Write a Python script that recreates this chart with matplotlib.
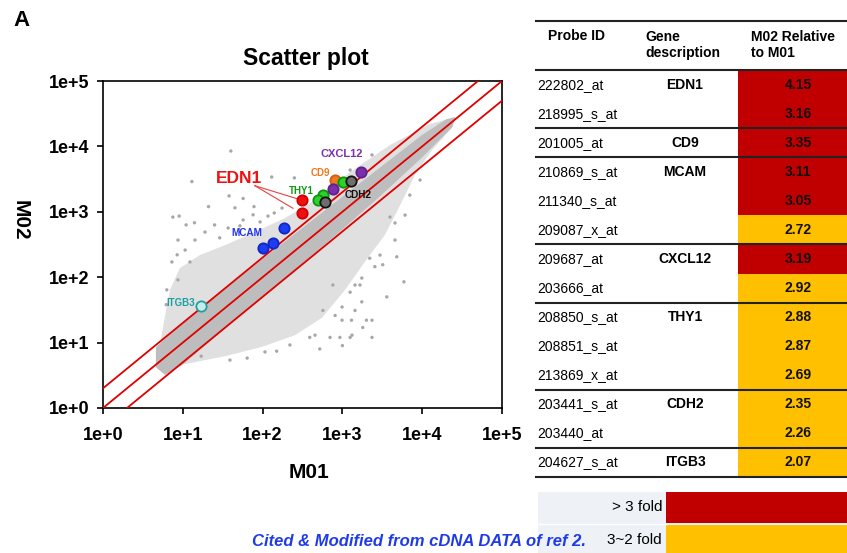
import matplotlib
matplotlib.use('Agg')
import matplotlib.pyplot as plt
from matplotlib.patches import Rectangle, Polygon
from matplotlib.ticker import FixedLocator, FixedFormatter, NullLocator

plt.rcParams['font.family'] = ['Liberation Sans', 'DejaVu Sans']

# ---- scatter data ----
# dense band of probes around the diagonal, outline as (M01, M02)
band_m01 = [4.6, 10, 30, 100, 300, 1000, 3000, 10000, 20000, 26000,
            24000, 10000, 3000, 1000, 300, 100, 30, 10, 6, 4.6]
band_m02 = [8.5, 20, 60, 190, 540, 1700, 4800, 15000, 26000, 28000,
            20000, 6800, 1750, 540, 155, 50, 14.5, 4.6, 3.2, 4.2]

# lighter speckled halo around the band
halo_m01 = [4.9, 5.3, 6.0, 6.9, 9.2, 16.4, 34, 80, 190, 450, 1250, 3950, 12500, 26000,
            23600, 13300, 8100, 5300, 3400, 1900, 1080, 555, 255, 98, 34, 10.7]
halo_m02 = [5.0, 11, 26, 64, 138, 218, 310, 490, 800, 1500, 4050, 10500, 22000, 28000,
            19100, 8800, 3650, 1270, 440, 170, 64, 24, 13, 8.6, 6.2, 4.7]

# scattered outlier probes
dots_m01 = [40, 13, 130, 250, 38, 57, 21, 45, 78, 9, 7.5, 11, 14, 57, 76, 140, 175, 1250, 2350, 4560,
            3950, 4800, 3200, 2550, 2200, 5900, 3600, 1750, 1440, 1250, 1750, 1440, 990, 990, 1300,
            2000, 2350, 1800, 2350, 1250, 930, 1000, 700, 520, 760, 570, 390, 64, 17, 150, 6.3, 8.5, 1320,
            7.3, 8.7, 10.7, 14.2, 19, 25, 37, 52, 93, 117, 8.7, 6.2, 12.3, 29,
            4560, 6100, 2960, 1660, 810, 454, 220, 107, 39, 9400, 7000]
dots_m02 = [8500, 2900, 3400, 3300, 1750, 1600, 1200, 1150, 1200, 860, 830, 630, 680, 750, 900, 960,
            1140, 4350, 7400, 675, 830, 205, 155, 145, 195, 85, 50, 97, 76, 59, 42, 31, 35, 22, 22,
            22, 22, 17, 12, 12, 12, 9, 12, 8, 76, 31, 12, 5.8, 6.2, 7.4, 64, 220, 13,
            171, 370, 260, 370, 490, 630, 565, 610, 700, 860, 91, 38, 171, 400,
            370, 890, 218, 76, 26, 13, 9.2, 7.2, 5.4, 3060, 1800]

# highlighted genes
genes = ['EDN1', 'EDN1', 'MCAM', 'MCAM', 'MCAM', 'ITGB3', 'CD9', 'THY1', 'THY1', 'THY1',
         'CDH2', 'CDH2', 'CXCL12', 'CXCL12']
gene_m01 = [314, 314, 187, 136, 101, 16.8, 815, 1009, 566, 499, 1270, 605, 1695, 755]
gene_m02 = [1514, 948, 560, 337, 283, 36.7, 3063, 2885, 1806, 1514, 2950, 1428, 4016, 2208]

fold_lines = [2, 1, 0.5]
ticks = [1, 10, 100, 1000, 10000, 100000]
tick_labels = ['1e+0', '1e+1', '1e+2', '1e+3', '1e+4', '1e+5']

# ---- table data ----
probe_ids = ['222802_at', '218995_s_at', '201005_at', '210869_s_at', '211340_s_at', '209087_x_at',
             '209687_at', '203666_at', '208850_s_at', '208851_s_at', '213869_x_at', '203441_s_at',
             '203440_at', '204627_s_at']
gene_desc = ['EDN1', '', 'CD9', 'MCAM', '', '', 'CXCL12', '', 'THY1', '', '', 'CDH2', '', 'ITGB3']
rel_fold = [4.15, 3.16, 3.35, 3.11, 3.05, 2.72, 3.19, 2.92, 2.88, 2.87, 2.69, 2.35, 2.26, 2.07]
group_ends = [2, 3, 6, 8, 11, 13, 14]

# styles
face = {'EDN1': '#f01010', 'MCAM': '#1f3cf5', 'ITGB3': '#c8ecec', 'CD9': '#f07820',
        'THY1': '#2ad22a', 'CDH2': '#6e6e6e', 'CXCL12': '#7a30a8'}
edge = {'EDN1': '#d00000', 'MCAM': '#1028c0', 'ITGB3': '#20a0a0', 'CD9': '#d06010',
        'THY1': '#129012', 'CDH2': '#111111', 'CXCL12': '#602090'}
text_col = {'EDN1': '#ee1111', 'MCAM': '#2233ee', 'ITGB3': '#1aa0a0', 'CD9': '#f07820',
            'THY1': '#119911', 'CDH2': '#111111', 'CXCL12': '#7a30a8'}
RED = '#c00000'
YEL = '#ffc000'

fig = plt.figure(figsize=(8.47, 5.53), dpi=100)
W, H = 847, 553

ax = fig.add_axes([103 / W, 1 - 408 / H, 399 / W, 327 / H])
ax.set_xscale('log')
ax.set_yscale('log')
ax.set_xlim(1, 1e5)
ax.set_ylim(1, 1e5)

ax.add_patch(Polygon(list(zip(halo_m01, halo_m02)), closed=True, facecolor='#e0e0e0',
                     edgecolor='none', zorder=1))
ax.add_patch(Polygon(list(zip(band_m01, band_m02)), closed=True, facecolor='#bdbdbd',
                     edgecolor='none', zorder=2))
ax.scatter(dots_m01, dots_m02, s=6, color='#a8a8a8', edgecolors='none', zorder=2)

for k in fold_lines:
    ax.plot([1, 1e5], [k * 1, k * 1e5], color='#e00000', lw=1.3, zorder=3)

for g, x, y in zip(genes, gene_m01, gene_m02):
    ax.scatter([x], [y], s=55, color=face[g], edgecolors=edge[g], linewidths=1.3, zorder=5)

# gene labels
lab_pos = {'EDN1': (50, 3250, 12.5), 'THY1': (309, 2100, 7), 'CD9': (524, 3880, 7),
           'CXCL12': (980, 7650, 8), 'CDH2': (1555, 1807, 7.2), 'MCAM': (63, 469, 7.2),
           'ITGB3': (9.5, 39.9, 7)}
for g, (x, y, fs) in lab_pos.items():
    ax.text(x, y, g, color=text_col[g], fontsize=fs, fontweight='bold', ha='center',
            va='center', zorder=6)
for x, y in [(278, 1570), (240, 1132)]:
    ax.plot([80, x], [2506, y], color='#e84040', lw=0.8, zorder=4)

ax.xaxis.set_major_locator(FixedLocator(ticks))
ax.yaxis.set_major_locator(FixedLocator(ticks))
ax.xaxis.set_major_formatter(FixedFormatter(tick_labels))
ax.yaxis.set_major_formatter(FixedFormatter(tick_labels))
ax.xaxis.set_minor_locator(NullLocator())
ax.yaxis.set_minor_locator(NullLocator())
ax.tick_params(axis='both', direction='out', length=4, width=1.2, labelsize=13)
ax.tick_params(axis='x', pad=10)
ax.tick_params(axis='y', pad=6)
for lbl in ax.get_xticklabels() + ax.get_yticklabels():
    lbl.set_fontweight('bold')
for sp in ax.spines.values():
    sp.set_linewidth(1.2)

fig.text(21 / W, 1 - 21 / H, 'A', fontsize=16, fontweight='bold', ha='center', va='center')
fig.text(306 / W, 1 - 58 / H, 'Scatter plot', fontsize=16.5, fontweight='bold',
         ha='center', va='center')
fig.text(309 / W, 1 - 473 / H, 'M01', fontsize=15, fontweight='bold', ha='center', va='center')
fig.text(20 / W, 1 - 220 / H, 'M02', fontsize=15, fontweight='bold', ha='center',
         va='center', rotation=270)

# ---- table (pixel coordinates overlay) ----
ov = fig.add_axes([0, 0, 1, 1])
ov.set_xlim(0, W)
ov.set_ylim(H, 0)
ov.axis('off')

x0, x1, xc = 536, W, 738
top, head = 21, 70
row_h = (477 - head) / len(probe_ids)

for i, v in enumerate(rel_fold):
    y = head + i * row_h
    ov.add_patch(Rectangle((xc, y), x1 - xc, row_h, facecolor=RED if v > 3 else YEL,
                           edgecolor='none'))
    yc = y + row_h / 2
    ov.text(537, yc, probe_ids[i], fontsize=10, ha='left', va='center')
    ov.text(685, yc, gene_desc[i], fontsize=10, fontweight='bold', ha='center', va='center')
    ov.text(798, yc, f'{v:.2f}', fontsize=10, fontweight='bold', ha='center', va='center',
            color='#111111')

ov.plot([x0, x1], [top, top], color='#222222', lw=1.5)
ov.plot([x0, x1], [head, head], color='#222222', lw=1.5)
for e in group_ends:
    y = head + e * row_h
    ov.plot([x0, x1], [y, y], color='#222222', lw=1.5)

ov.text(548, 36, 'Probe ID', fontsize=10, fontweight='bold', ha='left', va='center')
ov.text(645, 45, 'Gene\ndescription', fontsize=10, fontweight='bold', ha='left',
        va='center', linespacing=1.15)
ov.text(751, 45, 'M02 Relative\nto M01', fontsize=10, fontweight='bold', ha='left',
        va='center', linespacing=1.15)

# legend
ov.add_patch(Rectangle((538, 492), W - 538, H - 492, facecolor='#eef2f6', edgecolor='none'))
ov.plot([538, 666], [523.5, 523.5], color='white', lw=1)
ov.add_patch(Rectangle((666, 492), W - 666, 31, facecolor=RED, edgecolor='none'))
ov.add_patch(Rectangle((666, 525), W - 666, H - 525, facecolor=YEL, edgecolor='none'))
ov.text(662, 507, '> 3 fold', fontsize=11, ha='right', va='center')
ov.text(662, 540, '3~2 fold', fontsize=11, ha='right', va='center')

ov.text(252, 541, 'Cited & Modified from cDNA DATA of ref 2.', fontsize=12,
        fontweight='bold', fontstyle='italic', color='#1f3be8', ha='left', va='center')

fig.savefig('out.png', dpi=100)
